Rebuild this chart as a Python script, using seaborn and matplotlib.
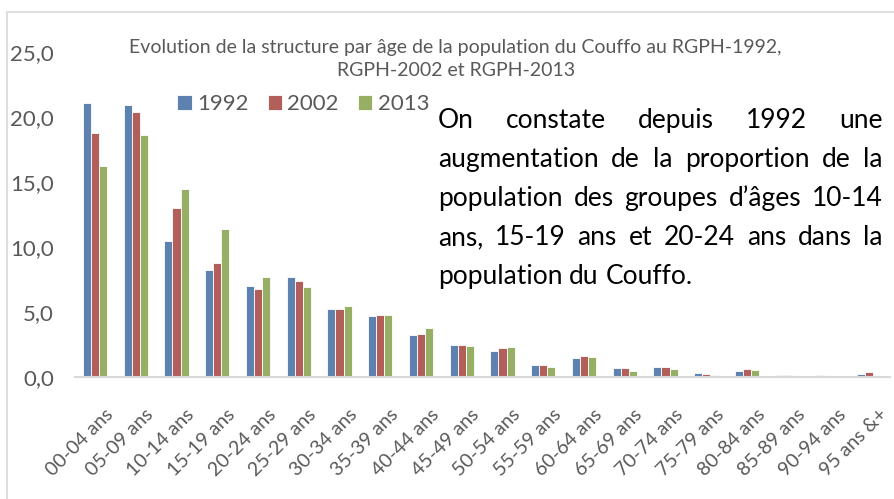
import pandas as pd
import matplotlib.pyplot as plt
import matplotlib.transforms as mtransforms
import seaborn as sns
from matplotlib.patches import Rectangle

# Age groups and share of population (%) per census
age_groups = ['00-04 ans', '05-09 ans', '10-14 ans', '15-19 ans', '20-24 ans',
              '25-29 ans', '30-34 ans', '35-39 ans', '40-44 ans', '45-49 ans',
              '50-54 ans', '55-59 ans', '60-64 ans', '65-69 ans', '70-74 ans',
              '75-79 ans', '80-84 ans', '85-89 ans', '90-94 ans', '95 ans &+']
rgph_1992 = [21.1, 20.9, 10.5, 8.2, 7.0, 7.7, 5.2, 4.7, 3.2, 2.5,
             2.0, 0.9, 1.5, 0.7, 0.8, 0.3, 0.5, 0.12, 0.15, 0.25]
rgph_2002 = [18.8, 20.4, 13.0, 8.8, 6.8, 7.4, 5.2, 4.8, 3.3, 2.5,
             2.2, 0.9, 1.6, 0.7, 0.75, 0.25, 0.6, 0.12, 0.1, 0.35]
rgph_2013 = [16.2, 18.6, 14.5, 11.4, 7.7, 6.9, 5.5, 4.8, 3.75, 2.4,
             2.3, 0.8, 1.55, 0.5, 0.65, 0.15, 0.55, 0.1, 0.1, 0.0]
years = ['1992', '2002', '2013']
colors = ['#4F81BD', '#C0504D', '#9BBB59']
ytick_values = [0, 5, 10, 15, 20, 25]
ytick_labels = ['0,0', '5,0', '10,0', '15,0', '20,0', '25,0']

note_lines = ['On constate depuis 1992 une',
              'augmentation de la proportion de la',
              'population des groupes d\u2019\u00e2ges 10-14',
              'ans, 15-19 ans et 20-24 ans dans la',
              'population du Couffo.']

df = pd.DataFrame({
    'groupe': age_groups * 3,
    'annee': [y for y in years for _ in age_groups],
    'valeur': rgph_1992 + rgph_2002 + rgph_2013,
})

sns.set_style('white')
plt.rcParams['font.family'] = ['Lato', 'DejaVu Sans']
grey = '#595959'

W, H = 895, 499
fig = plt.figure(figsize=(W / 100, H / 100), dpi=100)
ax = fig.add_axes([74.6 / W, 1 - 377 / H, 815 / W, 325 / H])

sns.barplot(data=df, x='groupe', y='valeur', hue='annee', palette=colors,
            width=0.6, edgecolor='white', linewidth=0.6, ax=ax)

ax.set_ylim(0, 25)
ax.set_yticks(ytick_values)
ax.set_yticklabels(ytick_labels)
ax.set_xlabel('')
ax.set_ylabel('')
ax.tick_params(axis='y', length=0, pad=15, labelsize=16, labelcolor=grey)
ax.tick_params(axis='x', length=0, pad=21, labelsize=14, labelcolor=grey)
shift = mtransforms.ScaledTranslation(9 / 100, 0, fig.dpi_scale_trans)
for lbl in ax.get_xticklabels():
    lbl.set_rotation(45)
    lbl.set_ha('right')
    lbl.set_va('top')
    lbl.set_rotation_mode('anchor')
    lbl.set_transform(lbl.get_transform() + shift)
for s in ['top', 'right', 'left']:
    ax.spines[s].set_visible(False)
ax.spines['bottom'].set_color('#D9D9D9')
ax.spines['bottom'].set_linewidth(1.5)

ax.legend(ncol=3, frameon=False, loc='center left',
          bbox_to_anchor=(166 / W, 1 - 104 / H), bbox_transform=fig.transFigure,
          borderpad=0, handlelength=0.65, handleheight=0.65,
          handletextpad=0.25, columnspacing=0.85, fontsize=16,
          labelcolor=grey)

# chart title
fig.text(455 / W, 1 - 47 / H,
         'Evolution de la structure par \u00e2ge de la population du Couffo au RGPH-1992,',
         ha='center', va='center', fontsize=14, color=grey)
fig.text(456 / W, 1 - 71 / H, 'RGPH-2002 et RGPH-2013',
         ha='center', va='center', fontsize=14, color=grey)

# outer chart border
fig.patches.append(Rectangle((7 / W, -0.1), 1.2, 1 - 12 / H + 0.1,
                             transform=fig.transFigure, fill=False,
                             edgecolor='#D9D9D9', linewidth=1.2))

# justified comment text
renderer = fig.canvas.get_renderer()
x0, x1 = 438, 883
baselines = [128, 167, 206, 245, 284]
for i, (line, yb) in enumerate(zip(note_lines, baselines)):
    words = line.split()
    texts = [fig.text(0, 1 - yb / H, w, fontsize=19, color='black',
                      va='baseline') for w in words]
    widths = [t.get_window_extent(renderer).width for t in texts]
    if i < len(note_lines) - 1:
        gap = (x1 - x0 - sum(widths)) / (len(words) - 1)
    else:
        gap = fig.text(0, 0, ' ', fontsize=19).get_window_extent(renderer).width
    x = x0
    for t, w in zip(texts, widths):
        t.set_x(x / W)
        x += w + gap

fig.savefig('out.png', dpi=100)
